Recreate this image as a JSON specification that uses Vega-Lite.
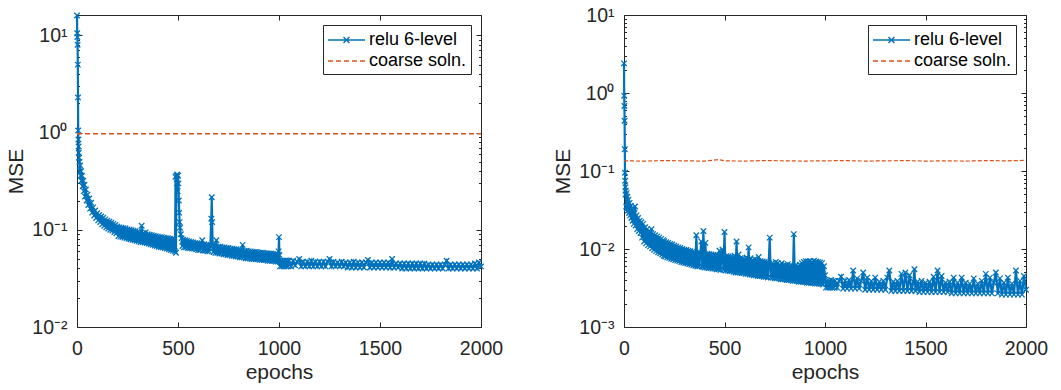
{
"$schema": "https://vega.github.io/schema/vega-lite/v6.json",
"background": "white",
"padding": {"left": 5, "top": 4, "right": 5, "bottom": 5},
"bounds": "flush",
"spacing": 143,
"config": {
 "font": "Liberation Sans",
 "view": {"stroke": "#262626", "strokeWidth": 1},
 "axis": {"domain": false, "grid": false, "labelFont": "Liberation Sans", "labelFontSize": 19.5, "labelColor": "#262626", "tickColor": "#262626", "tickWidth": 1, "titleFont": "Liberation Sans", "titleFontSize": 21, "titleFontWeight": "normal", "titleColor": "#262626", "labelOverlap": false, "labelFlush": false, "labelBound": false}
},
"datasets": {
 "L": [
{"e":0,"v":16},{"e":1,"v":10.5},{"e":2,"v":9.6},{"e":3,"v":8},{"e":4,"v":5},{"e":5,"v":2.3},{"e":6,"v":1.05},{"e":7,"v":0.85},{"e":8,"v":0.72},{"e":9,"v":0.62},{"e":10,"v":0.55},
{"e":12,"v":0.5},{"e":14,"v":0.4},{"e":16,"v":0.46},{"e":18,"v":0.36},{"e":20,"v":0.4},{"e":22,"v":0.32},{"e":25,"v":0.36},{"e":28,"v":0.28},{"e":31,"v":0.32},{"e":34,"v":0.25},{"e":37,"v":0.29},{"e":40,"v":0.22},{"e":44,"v":0.26},{"e":48,"v":0.2},{"e":52,"v":0.23},{"e":56,"v":0.18},{"e":60,"v":0.21},{"e":65,"v":0.165},{"e":70,"v":0.19},{"e":75,"v":0.15},{"e":80,"v":0.17},{"e":85,"v":0.14},{"e":90,"v":0.158},{"e":95,"v":0.132},{"e":100,"v":0.148},{"e":105,"v":0.125},{"e":110,"v":0.142},{"e":115,"v":0.12},{"e":120,"v":0.137},{"e":125,"v":0.114},{"e":130,"v":0.133},{"e":135,"v":0.11},{"e":140,"v":0.128},{"e":145,"v":0.106},{"e":150,"v":0.124},{"e":155,"v":0.103},{"e":160,"v":0.121},{"e":165,"v":0.1},{"e":170,"v":0.118},{"e":175,"v":0.098},{"e":180,"v":0.115},{"e":185,"v":0.095},{"e":190,"v":0.112},{"e":195,"v":0.092},
{"e":200,"v":0.108},{"e":205,"v":0.086},{"e":210,"v":0.106},{"e":215,"v":0.085},{"e":220,"v":0.105},{"e":225,"v":0.084},{"e":230,"v":0.104},{"e":235,"v":0.083},{"e":240,"v":0.103},{"e":245,"v":0.082},{"e":250,"v":0.101},{"e":255,"v":0.081},{"e":260,"v":0.1},{"e":265,"v":0.08},{"e":270,"v":0.099},{"e":275,"v":0.079},{"e":280,"v":0.098},{"e":285,"v":0.078},{"e":290,"v":0.097},{"e":295,"v":0.077},{"e":300,"v":0.095},{"e":305,"v":0.076},{"e":310,"v":0.094},{"e":315,"v":0.075},{"e":320,"v":0.11},{"e":325,"v":0.075},{"e":330,"v":0.093},{"e":335,"v":0.074},{"e":340,"v":0.094},{"e":345,"v":0.073},{"e":350,"v":0.09},{"e":355,"v":0.072},{"e":360,"v":0.089},{"e":365,"v":0.071},{"e":370,"v":0.088},{"e":375,"v":0.07},{"e":380,"v":0.087},{"e":385,"v":0.069},{"e":390,"v":0.086},{"e":395,"v":0.068},{"e":400,"v":0.085},{"e":405,"v":0.067},{"e":410,"v":0.084},{"e":415,"v":0.066},{"e":420,"v":0.084},{"e":425,"v":0.066},{"e":430,"v":0.083},{"e":435,"v":0.065},{"e":440,"v":0.082},{"e":445,"v":0.064},{"e":450,"v":0.082},{"e":455,"v":0.063},{"e":460,"v":0.081},{"e":465,"v":0.062},{"e":470,"v":0.08},{"e":475,"v":0.061},{"e":480,"v":0.08},{"e":485,"v":0.06},{"e":488,"v":0.35},{"e":490,"v":0.058},{"e":492,"v":0.36},{"e":494,"v":0.3},{"e":496,"v":0.37},{"e":498,"v":0.25},{"e":500,"v":0.36},{"e":502,"v":0.3},{"e":504,"v":0.2},{"e":506,"v":0.15},{"e":508,"v":0.12},{"e":510,"v":0.105},{"e":514,"v":0.09},{"e":518,"v":0.082},{"e":522,"v":0.068},{"e":525,"v":0.079},{"e":530,"v":0.066},{"e":535,"v":0.078},{"e":540,"v":0.066},{"e":545,"v":0.077},{"e":550,"v":0.065},{"e":555,"v":0.076},{"e":560,"v":0.065},{"e":565,"v":0.075},{"e":570,"v":0.064},{"e":575,"v":0.074},{"e":580,"v":0.064},{"e":585,"v":0.073},{"e":590,"v":0.063},{"e":595,"v":0.073},{"e":600,"v":0.062},{"e":605,"v":0.072},{"e":610,"v":0.062},{"e":615,"v":0.071},{"e":620,"v":0.078},{"e":625,"v":0.061},{"e":630,"v":0.071},{"e":635,"v":0.061},{"e":640,"v":0.07},{"e":645,"v":0.06},{"e":650,"v":0.07},{"e":655,"v":0.06},{"e":660,"v":0.069},{"e":665,"v":0.13},{"e":667,"v":0.216},{"e":669,"v":0.12},{"e":672,"v":0.069},{"e":676,"v":0.059},{"e":680,"v":0.069},{"e":685,"v":0.058},{"e":690,"v":0.078},{"e":695,"v":0.058},{"e":700,"v":0.067},{"e":705,"v":0.057},{"e":710,"v":0.067},{"e":715,"v":0.057},{"e":720,"v":0.066},{"e":725,"v":0.056},{"e":730,"v":0.066},{"e":735,"v":0.056},{"e":740,"v":0.065},{"e":745,"v":0.055},{"e":750,"v":0.065},{"e":755,"v":0.055},{"e":760,"v":0.064},{"e":765,"v":0.054},{"e":770,"v":0.064},{"e":775,"v":0.054},{"e":780,"v":0.063},{"e":785,"v":0.053},{"e":790,"v":0.063},{"e":795,"v":0.053},{"e":800,"v":0.062},{"e":805,"v":0.052},{"e":810,"v":0.062},{"e":815,"v":0.052},{"e":820,"v":0.07},{"e":825,"v":0.052},{"e":830,"v":0.061},{"e":835,"v":0.051},{"e":840,"v":0.061},{"e":845,"v":0.051},{"e":850,"v":0.06},{"e":855,"v":0.051},{"e":860,"v":0.06},{"e":865,"v":0.05},{"e":870,"v":0.059},{"e":875,"v":0.05},{"e":880,"v":0.059},{"e":885,"v":0.05},{"e":890,"v":0.059},{"e":895,"v":0.05},{"e":900,"v":0.058},{"e":905,"v":0.049},{"e":910,"v":0.058},{"e":915,"v":0.049},{"e":920,"v":0.058},{"e":925,"v":0.049},{"e":930,"v":0.057},{"e":935,"v":0.049},{"e":940,"v":0.057},{"e":945,"v":0.048},{"e":950,"v":0.057},{"e":955,"v":0.048},{"e":960,"v":0.057},{"e":965,"v":0.048},{"e":970,"v":0.056},{"e":975,"v":0.048},{"e":980,"v":0.056},{"e":985,"v":0.047},{"e":990,"v":0.056},{"e":995,"v":0.047},{"e":998,"v":0.06},{"e":1000,"v":0.084},{"e":1002,"v":0.055},{"e":1005,"v":0.042},
{"e":1010,"v":0.048},{"e":1015,"v":0.042},{"e":1020,"v":0.048},{"e":1025,"v":0.042},{"e":1030,"v":0.048},{"e":1035,"v":0.042},{"e":1040,"v":0.048},{"e":1045,"v":0.042},{"e":1050,"v":0.048},{"e":1060,"v":0.042},{"e":1070,"v":0.048},{"e":1080,"v":0.043},{"e":1090,"v":0.047},{"e":1100,"v":0.05},{"e":1110,"v":0.042},{"e":1120,"v":0.047},{"e":1130,"v":0.042},{"e":1140,"v":0.047},{"e":1150,"v":0.042},{"e":1160,"v":0.048},{"e":1170,"v":0.042},{"e":1180,"v":0.047},{"e":1190,"v":0.042},{"e":1200,"v":0.047},{"e":1210,"v":0.042},{"e":1220,"v":0.047},{"e":1230,"v":0.042},{"e":1240,"v":0.047},{"e":1250,"v":0.05},{"e":1260,"v":0.042},{"e":1270,"v":0.047},{"e":1280,"v":0.042},{"e":1290,"v":0.046},{"e":1300,"v":0.042},{"e":1310,"v":0.047},{"e":1320,"v":0.042},{"e":1330,"v":0.046},{"e":1340,"v":0.041},{"e":1350,"v":0.046},{"e":1360,"v":0.041},{"e":1370,"v":0.047},{"e":1380,"v":0.041},{"e":1390,"v":0.046},{"e":1400,"v":0.041},{"e":1410,"v":0.046},{"e":1420,"v":0.041},{"e":1430,"v":0.046},{"e":1440,"v":0.049},{"e":1450,"v":0.041},{"e":1460,"v":0.046},{"e":1470,"v":0.041},{"e":1480,"v":0.046},{"e":1490,"v":0.041},{"e":1500,"v":0.046},{"e":1510,"v":0.041},{"e":1520,"v":0.046},{"e":1530,"v":0.041},{"e":1540,"v":0.046},{"e":1550,"v":0.041},{"e":1560,"v":0.05},{"e":1570,"v":0.041},{"e":1580,"v":0.045},{"e":1590,"v":0.041},{"e":1600,"v":0.045},{"e":1610,"v":0.04},{"e":1620,"v":0.045},{"e":1630,"v":0.04},{"e":1640,"v":0.045},{"e":1650,"v":0.04},{"e":1660,"v":0.045},{"e":1670,"v":0.04},{"e":1680,"v":0.045},{"e":1690,"v":0.04},{"e":1700,"v":0.045},{"e":1710,"v":0.04},{"e":1720,"v":0.045},{"e":1730,"v":0.04},{"e":1740,"v":0.044},{"e":1750,"v":0.04},{"e":1760,"v":0.044},{"e":1770,"v":0.04},{"e":1780,"v":0.044},{"e":1790,"v":0.04},{"e":1800,"v":0.044},{"e":1810,"v":0.04},{"e":1820,"v":0.044},{"e":1830,"v":0.048},{"e":1840,"v":0.04},{"e":1850,"v":0.044},{"e":1860,"v":0.04},{"e":1870,"v":0.044},{"e":1880,"v":0.04},{"e":1890,"v":0.044},{"e":1900,"v":0.04},{"e":1910,"v":0.044},{"e":1920,"v":0.04},{"e":1930,"v":0.044},{"e":1940,"v":0.04},{"e":1950,"v":0.044},{"e":1960,"v":0.04},{"e":1970,"v":0.045},{"e":1980,"v":0.04},{"e":1990,"v":0.046},{"e":2000,"v":0.042}
 ],
 "LC": [{"e":0,"v":0.97},{"e":2000,"v":0.97}],
 "R": [
{"e":0,"v":2.4},{"e":1,"v":0.92},{"e":2,"v":0.68},{"e":3,"v":0.44},{"e":4,"v":0.19},{"e":5,"v":0.095},{"e":6,"v":0.075},{"e":7,"v":0.062},{"e":8,"v":0.05},
{"e":9,"v":0.056},{"e":11,"v":0.035},{"e":13,"v":0.052},{"e":15,"v":0.033},{"e":17,"v":0.047},{"e":19,"v":0.031},{"e":22,"v":0.043},{"e":25,"v":0.029},{"e":28,"v":0.039},{"e":31,"v":0.027},{"e":34,"v":0.036},{"e":37,"v":0.025},{"e":40,"v":0.033},{"e":43,"v":0.023},{"e":46,"v":0.031},{"e":49,"v":0.021},{"e":52,"v":0.029},{"e":55,"v":0.035},{"e":58,"v":0.02},{"e":62,"v":0.027},{"e":66,"v":0.018},{"e":70,"v":0.025},{"e":74,"v":0.017},{"e":78,"v":0.023},{"e":82,"v":0.016},{"e":86,"v":0.022},{"e":90,"v":0.014},{"e":95,"v":0.021},{"e":100,"v":0.0125},{"e":105,"v":0.019},{"e":110,"v":0.0118},{"e":115,"v":0.018},{"e":120,"v":0.0112},{"e":125,"v":0.017},{"e":130,"v":0.0108},{"e":137,"v":0.018},{"e":140,"v":0.0102},{"e":145,"v":0.0155},{"e":150,"v":0.0098},{"e":155,"v":0.015},{"e":160,"v":0.0094},{"e":165,"v":0.0145},{"e":170,"v":0.0091},{"e":175,"v":0.014},{"e":180,"v":0.0088},{"e":185,"v":0.0135},{"e":190,"v":0.0085},{"e":195,"v":0.013},{"e":198,"v":0.0082},
{"e":200,"v":0.0126},{"e":205,"v":0.008},{"e":210,"v":0.0122},{"e":215,"v":0.0078},{"e":220,"v":0.012},{"e":225,"v":0.0077},{"e":230,"v":0.0116},{"e":235,"v":0.0075},{"e":240,"v":0.0114},{"e":245,"v":0.0074},{"e":250,"v":0.011},{"e":255,"v":0.0072},{"e":260,"v":0.0108},{"e":265,"v":0.0071},{"e":270,"v":0.0105},{"e":275,"v":0.007},{"e":280,"v":0.0103},{"e":285,"v":0.0068},{"e":290,"v":0.01},{"e":295,"v":0.0067},{"e":300,"v":0.0098},{"e":305,"v":0.0066},{"e":310,"v":0.0097},{"e":315,"v":0.0065},{"e":320,"v":0.0095},{"e":325,"v":0.0064},{"e":330,"v":0.0094},{"e":335,"v":0.0063},{"e":340,"v":0.0092},{"e":345,"v":0.0062},{"e":350,"v":0.0091},{"e":355,"v":0.0061},{"e":360,"v":0.015},{"e":365,"v":0.006},{"e":370,"v":0.009},{"e":375,"v":0.006},{"e":380,"v":0.0089},{"e":385,"v":0.0125},{"e":390,"v":0.0059},{"e":395,"v":0.017},{"e":400,"v":0.0058},{"e":405,"v":0.012},{"e":410,"v":0.0058},{"e":415,"v":0.0087},{"e":420,"v":0.0057},{"e":425,"v":0.0086},{"e":430,"v":0.0057},{"e":435,"v":0.0085},{"e":440,"v":0.0056},{"e":445,"v":0.0084},{"e":450,"v":0.0056},{"e":455,"v":0.0083},{"e":460,"v":0.0055},{"e":465,"v":0.0083},{"e":470,"v":0.0055},{"e":475,"v":0.0095},{"e":480,"v":0.0054},{"e":485,"v":0.0082},{"e":490,"v":0.0098},{"e":495,"v":0.0054},{"e":500,"v":0.0165},{"e":505,"v":0.0053},{"e":510,"v":0.0081},{"e":515,"v":0.0053},{"e":520,"v":0.008},{"e":525,"v":0.0052},{"e":530,"v":0.0079},{"e":535,"v":0.0052},{"e":540,"v":0.0078},{"e":545,"v":0.0051},{"e":550,"v":0.0082},{"e":555,"v":0.005},{"e":560,"v":0.0125},{"e":565,"v":0.005},{"e":570,"v":0.0085},{"e":575,"v":0.005},{"e":580,"v":0.0076},{"e":585,"v":0.0049},{"e":590,"v":0.0075},{"e":595,"v":0.0049},{"e":600,"v":0.0074},{"e":605,"v":0.0048},{"e":610,"v":0.0078},{"e":615,"v":0.0048},{"e":620,"v":0.0105},{"e":625,"v":0.0047},{"e":630,"v":0.0076},{"e":635,"v":0.0047},{"e":640,"v":0.0072},{"e":645,"v":0.0046},{"e":650,"v":0.0074},{"e":655,"v":0.0046},{"e":660,"v":0.0071},{"e":665,"v":0.0045},{"e":670,"v":0.0079},{"e":675,"v":0.0045},{"e":680,"v":0.007},{"e":685,"v":0.0045},{"e":690,"v":0.0069},{"e":695,"v":0.0044},{"e":700,"v":0.0068},{"e":705,"v":0.0044},{"e":710,"v":0.0067},{"e":715,"v":0.0043},{"e":720,"v":0.0066},{"e":725,"v":0.014},{"e":730,"v":0.0043},{"e":735,"v":0.0065},{"e":740,"v":0.0043},{"e":745,"v":0.0064},{"e":750,"v":0.0042},{"e":755,"v":0.0068},{"e":760,"v":0.0042},{"e":765,"v":0.0066},{"e":770,"v":0.0042},{"e":775,"v":0.0063},{"e":780,"v":0.0041},{"e":785,"v":0.0066},{"e":790,"v":0.0041},{"e":795,"v":0.0062},{"e":800,"v":0.0041},{"e":805,"v":0.0062},{"e":810,"v":0.004},{"e":815,"v":0.0064},{"e":820,"v":0.004},{"e":825,"v":0.0061},{"e":830,"v":0.004},{"e":835,"v":0.0061},{"e":840,"v":0.0039},{"e":845,"v":0.0155},{"e":850,"v":0.0039},{"e":855,"v":0.0062},{"e":860,"v":0.0039},{"e":865,"v":0.006},{"e":870,"v":0.0038},{"e":875,"v":0.0063},{"e":880,"v":0.0038},{"e":885,"v":0.0066},{"e":890,"v":0.0038},{"e":895,"v":0.0068},{"e":900,"v":0.0038},{"e":905,"v":0.007},{"e":910,"v":0.0037},{"e":915,"v":0.0069},{"e":920,"v":0.0037},{"e":925,"v":0.007},{"e":930,"v":0.0037},{"e":935,"v":0.0068},{"e":940,"v":0.0037},{"e":945,"v":0.0071},{"e":950,"v":0.0036},{"e":955,"v":0.0069},{"e":960,"v":0.0036},{"e":965,"v":0.0068},{"e":970,"v":0.0036},{"e":975,"v":0.0067},{"e":980,"v":0.0036},{"e":985,"v":0.0066},{"e":990,"v":0.0035},{"e":995,"v":0.006},{"e":1000,"v":0.0046},
{"e":1005,"v":0.0032},{"e":1010,"v":0.0039},{"e":1015,"v":0.0032},{"e":1020,"v":0.0039},{"e":1025,"v":0.0032},{"e":1030,"v":0.004},{"e":1035,"v":0.0032},{"e":1040,"v":0.0039},{"e":1045,"v":0.0032},{"e":1050,"v":0.0039},{"e":1060,"v":0.0032},{"e":1070,"v":0.0039},{"e":1080,"v":0.0044},{"e":1090,"v":0.0031},{"e":1100,"v":0.0039},{"e":1110,"v":0.0031},{"e":1120,"v":0.004},{"e":1130,"v":0.0031},{"e":1140,"v":0.0053},{"e":1150,"v":0.0031},{"e":1160,"v":0.0042},{"e":1170,"v":0.0031},{"e":1180,"v":0.0039},{"e":1190,"v":0.005},{"e":1200,"v":0.003},{"e":1210,"v":0.0043},{"e":1220,"v":0.003},{"e":1230,"v":0.0039},{"e":1240,"v":0.003},{"e":1250,"v":0.0043},{"e":1260,"v":0.003},{"e":1270,"v":0.0038},{"e":1280,"v":0.003},{"e":1290,"v":0.0039},{"e":1300,"v":0.003},{"e":1310,"v":0.0043},{"e":1320,"v":0.0053},{"e":1330,"v":0.0029},{"e":1340,"v":0.0038},{"e":1350,"v":0.0029},{"e":1360,"v":0.0039},{"e":1370,"v":0.0029},{"e":1380,"v":0.0048},{"e":1390,"v":0.0029},{"e":1400,"v":0.005},{"e":1410,"v":0.0029},{"e":1420,"v":0.0046},{"e":1430,"v":0.0029},{"e":1440,"v":0.0038},{"e":1445,"v":0.0055},{"e":1450,"v":0.0029},{"e":1460,"v":0.0038},{"e":1470,"v":0.0028},{"e":1480,"v":0.0039},{"e":1490,"v":0.0028},{"e":1500,"v":0.0037},{"e":1510,"v":0.0028},{"e":1520,"v":0.0038},{"e":1530,"v":0.0028},{"e":1540,"v":0.0044},{"e":1550,"v":0.0028},{"e":1560,"v":0.0053},{"e":1570,"v":0.0028},{"e":1580,"v":0.0045},{"e":1590,"v":0.0028},{"e":1600,"v":0.0037},{"e":1610,"v":0.0028},{"e":1620,"v":0.0038},{"e":1630,"v":0.0027},{"e":1640,"v":0.0043},{"e":1650,"v":0.0027},{"e":1660,"v":0.0037},{"e":1670,"v":0.0027},{"e":1680,"v":0.0043},{"e":1690,"v":0.0027},{"e":1700,"v":0.0037},{"e":1710,"v":0.0027},{"e":1720,"v":0.0036},{"e":1730,"v":0.0027},{"e":1740,"v":0.0042},{"e":1750,"v":0.0027},{"e":1760,"v":0.0036},{"e":1770,"v":0.0027},{"e":1780,"v":0.0039},{"e":1790,"v":0.0027},{"e":1800,"v":0.0048},{"e":1810,"v":0.0027},{"e":1820,"v":0.0043},{"e":1830,"v":0.0027},{"e":1840,"v":0.0037},{"e":1850,"v":0.005},{"e":1860,"v":0.0027},{"e":1870,"v":0.0042},{"e":1880,"v":0.0026},{"e":1890,"v":0.0037},{"e":1900,"v":0.0026},{"e":1910,"v":0.0043},{"e":1920,"v":0.0026},{"e":1930,"v":0.0036},{"e":1940,"v":0.0026},{"e":1950,"v":0.0053},{"e":1960,"v":0.0026},{"e":1970,"v":0.0039},{"e":1980,"v":0.0026},{"e":1990,"v":0.0045},{"e":2000,"v":0.003}
 ],
 "RC": [{"e":0,"v":0.135},{"e":100,"v":0.134},{"e":200,"v":0.136},{"e":300,"v":0.135},{"e":400,"v":0.134},{"e":470,"v":0.14},{"e":500,"v":0.135},{"e":600,"v":0.134},{"e":700,"v":0.136},{"e":800,"v":0.135},{"e":900,"v":0.134},{"e":1000,"v":0.135},{"e":1100,"v":0.136},{"e":1200,"v":0.134},{"e":1300,"v":0.135},{"e":1400,"v":0.136},{"e":1500,"v":0.134},{"e":1600,"v":0.135},{"e":1700,"v":0.134},{"e":1800,"v":0.136},{"e":1900,"v":0.135},{"e":2000,"v":0.137}]
},
"hconcat": [
 {
  "width": 404, "height": 312,
  "layer": [
   {"data": {"name": "L"}, "mark": {"type": "line", "strokeWidth": 2.2},
    "encoding": {
     "x": {"field": "e", "type": "quantitative", "scale": {"domain": [0, 2000], "nice": false}, "axis": {"values": [0, 500, 1000, 1500, 2000], "format": "d", "title": "epochs", "tickSize": -5, "labelPadding": 17, "titlePadding": 4}},
     "y": {"field": "v", "type": "quantitative", "scale": {"type": "log", "domain": [0.01, 16.2], "nice": false}, "axis": {"values": [0.01,0.02,0.03,0.04,0.05,0.06,0.07,0.08,0.09,0.1,0.2,0.3,0.4,0.5,0.6,0.7,0.8,0.9,1,2,3,4,5,6,7,8,9,10], "labelExpr": "datum.value === 10 ? '10¹' : datum.value === 1 ? '10⁰' : datum.value === 0.1 ? '10⁻¹' : datum.value === 0.01 ? '10⁻²' : ''", "tickSize": {"condition": {"test": "datum.value === 0.01 || datum.value === 0.1 || datum.value === 1 || datum.value === 10", "value": -5}, "value": -2.5}, "labelPadding": 15, "title": "MSE", "titlePadding": 5}},
     "color": {"datum": "relu 6-level", "scale": {"domain": ["relu 6-level", "coarse soln."], "range": ["#0072BD", "#D95319"]},
      "legend": {"title": null, "orient": "top-right", "offset": 10, "padding": 4, "strokeColor": "#262626", "fillColor": "white", "labelFontSize": 18, "labelFont": "Liberation Sans", "labelColor": "black", "symbolSize": 400, "labelOffset": 20, "rowPadding": 1, "symbolStrokeWidth": 1.4, "cornerRadius": 0,
       "encode": {"symbols": {"update": {"shape": {"signal": "datum.value === 'relu 6-level' ? 'M-1,0L2.7,0M0.55,-0.3L1.15,0.3M0.55,0.3L1.15,-0.3' : 'M-1,0L2.7,0'"}, "strokeDash": {"signal": "datum.value === 'relu 6-level' ? [1,0] : [5,3]"}, "fill": {"value": "transparent"}}}}}}
    }},
   {"data": {"name": "L"}, "mark": {"type": "point", "shape": "M-1,-1L1,1M-1,1L1,-1", "filled": false, "size": 30, "strokeWidth": 1.3, "opacity": 1},
    "encoding": {
     "x": {"field": "e", "type": "quantitative", "axis": null},
     "y": {"field": "v", "type": "quantitative", "scale": {"type": "log"}, "axis": null},
     "color": {"datum": "relu 6-level"}
    }},
   {"data": {"name": "LC"}, "mark": {"type": "line", "strokeWidth": 1.5, "strokeDash": [5, 3]},
    "encoding": {
     "x": {"field": "e", "type": "quantitative", "axis": {"orient": "top", "values": [0, 500, 1000, 1500, 2000], "labels": false, "title": null, "tickSize": -5}},
     "y": {"field": "v", "type": "quantitative", "scale": {"type": "log"}, "axis": {"orient": "right", "values": [0.01,0.02,0.03,0.04,0.05,0.06,0.07,0.08,0.09,0.1,0.2,0.3,0.4,0.5,0.6,0.7,0.8,0.9,1,2,3,4,5,6,7,8,9,10], "labels": false, "title": null, "tickSize": {"condition": {"test": "datum.value === 0.01 || datum.value === 0.1 || datum.value === 1 || datum.value === 10", "value": -5}, "value": -2.5}}},
     "color": {"datum": "coarse soln."}
    }}
  ],
  "resolve": {"axis": {"x": "independent", "y": "independent"}}
 },
 {
  "width": 402, "height": 312,
  "layer": [
   {"data": {"name": "R"}, "mark": {"type": "line", "strokeWidth": 2.2},
    "encoding": {
     "x": {"field": "e", "type": "quantitative", "scale": {"domain": [0, 2000], "nice": false}, "axis": {"values": [0, 500, 1000, 1500, 2000], "format": "d", "title": "epochs", "tickSize": -5, "labelPadding": 17, "titlePadding": 4}},
     "y": {"field": "v", "type": "quantitative", "scale": {"type": "log", "domain": [0.001, 10], "nice": false}, "axis": {"values": [0.001,0.002,0.003,0.004,0.005,0.006,0.007,0.008,0.009,0.01,0.02,0.03,0.04,0.05,0.06,0.07,0.08,0.09,0.1,0.2,0.3,0.4,0.5,0.6,0.7,0.8,0.9,1,2,3,4,5,6,7,8,9,10], "labelExpr": "datum.value === 10 ? '10¹' : datum.value === 1 ? '10⁰' : datum.value === 0.1 ? '10⁻¹' : datum.value === 0.01 ? '10⁻²' : datum.value === 0.001 ? '10⁻³' : ''", "tickSize": {"condition": {"test": "datum.value === 0.001 || datum.value === 0.01 || datum.value === 0.1 || datum.value === 1 || datum.value === 10", "value": -5}, "value": -2.5}, "labelPadding": 15, "title": "MSE", "titlePadding": 5}},
     "color": {"datum": "relu 6-level", "scale": {"domain": ["relu 6-level", "coarse soln."], "range": ["#0072BD", "#D95319"]},
      "legend": {"title": null, "orient": "top-right", "offset": 10, "padding": 4, "strokeColor": "#262626", "fillColor": "white", "labelFontSize": 18, "labelFont": "Liberation Sans", "labelColor": "black", "symbolSize": 400, "labelOffset": 20, "rowPadding": 1, "symbolStrokeWidth": 1.4, "cornerRadius": 0,
       "encode": {"symbols": {"update": {"shape": {"signal": "datum.value === 'relu 6-level' ? 'M-1,0L2.7,0M0.55,-0.3L1.15,0.3M0.55,0.3L1.15,-0.3' : 'M-1,0L2.7,0'"}, "strokeDash": {"signal": "datum.value === 'relu 6-level' ? [1,0] : [5,3]"}, "fill": {"value": "transparent"}}}}}}
    }},
   {"data": {"name": "R"}, "mark": {"type": "point", "shape": "M-1,-1L1,1M-1,1L1,-1", "filled": false, "size": 30, "strokeWidth": 1.3, "opacity": 1},
    "encoding": {
     "x": {"field": "e", "type": "quantitative", "axis": null},
     "y": {"field": "v", "type": "quantitative", "scale": {"type": "log"}, "axis": null},
     "color": {"datum": "relu 6-level"}
    }},
   {"data": {"name": "RC"}, "mark": {"type": "line", "strokeWidth": 1.2, "strokeDash": [4, 2]},
    "encoding": {
     "x": {"field": "e", "type": "quantitative", "axis": {"orient": "top", "values": [0, 500, 1000, 1500, 2000], "labels": false, "title": null, "tickSize": -5}},
     "y": {"field": "v", "type": "quantitative", "scale": {"type": "log"}, "axis": {"orient": "right", "values": [0.001,0.002,0.003,0.004,0.005,0.006,0.007,0.008,0.009,0.01,0.02,0.03,0.04,0.05,0.06,0.07,0.08,0.09,0.1,0.2,0.3,0.4,0.5,0.6,0.7,0.8,0.9,1,2,3,4,5,6,7,8,9,10], "labels": false, "title": null, "tickSize": {"condition": {"test": "datum.value === 0.001 || datum.value === 0.01 || datum.value === 0.1 || datum.value === 1 || datum.value === 10", "value": -5}, "value": -2.5}}},
     "color": {"datum": "coarse soln."}
    }}
  ],
  "resolve": {"axis": {"x": "independent", "y": "independent"}}
 }
],
"resolve": {"scale": {"x": "independent", "y": "independent", "color": "independent"}, "legend": {"color": "independent"}}
}
